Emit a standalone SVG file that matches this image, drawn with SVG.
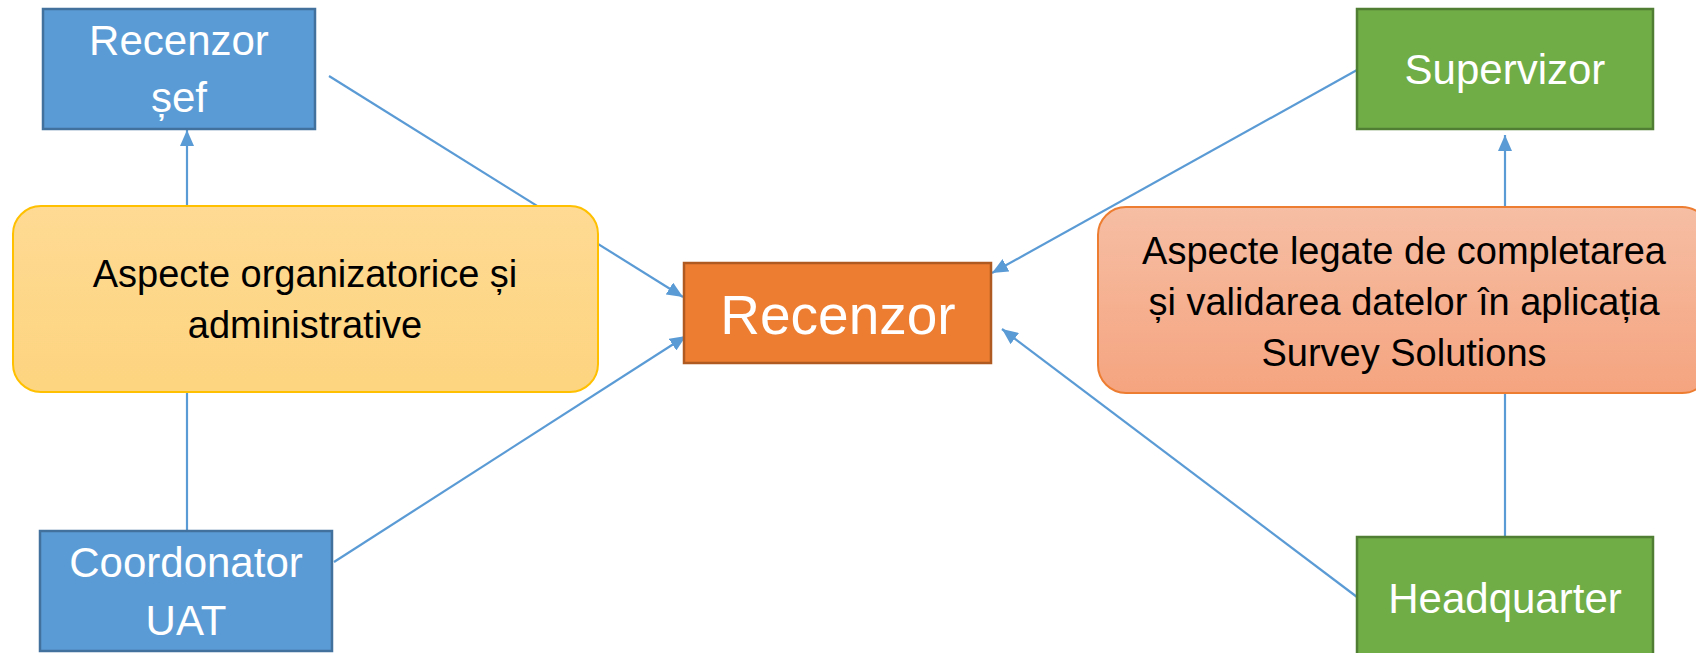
<svg xmlns="http://www.w3.org/2000/svg" width="1696" height="653" viewBox="0 0 1696 653">
<style>
.blue{fill:#5B9BD5;stroke:#41719C;stroke-width:2.5}
.green{fill:#70AD47;stroke:#507E32;stroke-width:2.5}
.orange{fill:#ED7D31;stroke:#AE5A21;stroke-width:2.5}
.wt{fill:#FFFFFF;font-family:"Liberation Sans",Arial,sans-serif;font-size:42px;text-anchor:middle}
.bt{fill:#000000;font-family:"Liberation Sans",Arial,sans-serif;font-size:38px;text-anchor:middle}
.conn line{stroke:#5B9BD5;stroke-width:2.2}
</style>
<defs>
<marker id="arr" markerUnits="userSpaceOnUse" markerWidth="16" markerHeight="14" refX="16" refY="7" orient="auto">
<path d="M0,0 L16,7 L0,14 z" fill="#5B9BD5"/>
</marker>
<linearGradient id="gy" x1="0" y1="0" x2="0" y2="1">
<stop offset="0" stop-color="#FEDA93"/>
<stop offset="1" stop-color="#FDD47F"/>
</linearGradient>
<linearGradient id="gs" x1="0" y1="0" x2="0" y2="1">
<stop offset="0" stop-color="#F6BEA4"/>
<stop offset="1" stop-color="#F5A47F"/>
</linearGradient>
</defs>
<rect width="1696" height="653" fill="#FFFFFF"/>
<g id="connectors" class="conn">
<line x1="187" y1="205" x2="187" y2="130" marker-end="url(#arr)"/>
<line x1="187" y1="531" x2="187" y2="392"/>
<line x1="329" y1="76" x2="683" y2="297" marker-end="url(#arr)"/>
<line x1="334" y1="562" x2="686" y2="336" marker-end="url(#arr)"/>
<line x1="1357" y1="70" x2="992" y2="273" marker-end="url(#arr)"/>
<line x1="1357" y1="597" x2="1002" y2="329" marker-end="url(#arr)"/>
<line x1="1505" y1="207" x2="1505" y2="135" marker-end="url(#arr)"/>
<line x1="1505" y1="537" x2="1505" y2="393"/>
</g>
<g id="recenzor-sef">
<rect class="blue" x="43" y="9" width="272" height="120"/>
<text class="wt" x="179" y="55">Recenzor</text>
<text class="wt" x="179" y="112">șef</text>
</g>
<g id="aspecte-org">
<rect x="13" y="206" width="585" height="186" rx="28" fill="url(#gy)" stroke="#FFC000" stroke-width="2"/>
<text class="bt" x="305" y="287">Aspecte organizatorice și</text>
<text class="bt" x="305" y="338">administrative</text>
</g>
<g id="coordonator">
<rect class="blue" x="40" y="531" width="292" height="120"/>
<text class="wt" x="186" y="577" font-size="43">Coordonator</text>
<text class="wt" x="186" y="635" font-size="43">UAT</text>
</g>
<g id="recenzor">
<rect class="orange" x="684" y="263" width="307" height="100"/>
<text x="838" y="334" fill="#FFFFFF" font-family="'Liberation Sans',Arial,sans-serif" font-size="55" text-anchor="middle">Recenzor</text>
</g>
<g id="supervizor">
<rect class="green" x="1357" y="9" width="296" height="120"/>
<text class="wt" x="1505" y="84">Supervizor</text>
</g>
<g id="aspecte-survey">
<rect x="1098" y="207" width="612" height="186" rx="28" fill="url(#gs)" stroke="#ED7D31" stroke-width="2"/>
<text class="bt" x="1404" y="264">Aspecte legate de completarea</text>
<text class="bt" x="1404" y="315">și validarea datelor în aplicația</text>
<text class="bt" x="1404" y="366">Survey Solutions</text>
</g>
<g id="headquarter">
<rect class="green" x="1357" y="537" width="296" height="130"/>
<text class="wt" x="1505" y="613" font-size="43">Headquarter</text>
</g>
</svg>
